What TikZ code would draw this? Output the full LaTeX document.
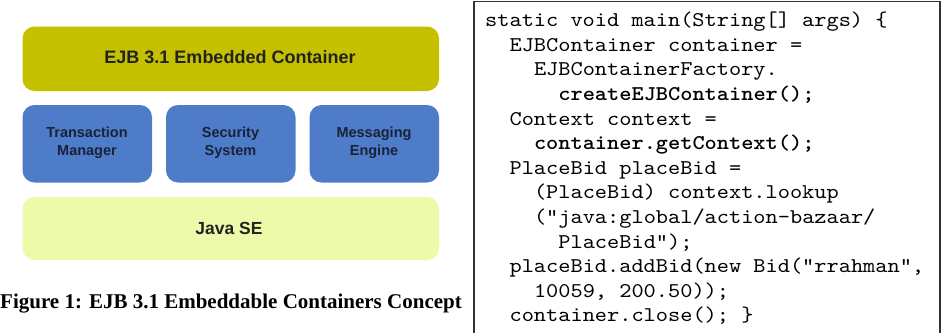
\documentclass[tikz,border=0pt]{standalone}
\usepackage{fontspec}
\setmainfont{Liberation Serif}
\newfontfamily\boxfont{Liberation Sans}
\newfontfamily\codefont{lmmono10-regular.otf}[BoldFont=lmmonolt10-bold.otf, FakeStretch=1.106]
\definecolor{olivebox}{RGB}{197,193,0}
\definecolor{bluebox}{RGB}{79,124,200}
\definecolor{greenbox}{RGB}{236,250,170}
\definecolor{boxtext}{RGB}{34,34,30}
\definecolor{bluetext}{RGB}{24,34,56}
\definecolor{frame}{RGB}{50,50,50}
\tikzset{
  lbl/.style={font=\boxfont\bfseries, align=center},
  code/.style={anchor=base west, inner sep=0pt, font=\codefont\fontsize{21}{24}\selectfont},
  bcode/.style={code, font=\codefont\bfseries\fontsize{21}{24}\selectfont}
}
\begin{document}
\begin{tikzpicture}[x=1pt,y=-1pt]
\useasboundingbox (0,0) rectangle (941,332);
% left diagram
\fill[olivebox,rounded corners=12pt] (22.5,26.5) rectangle (439,91);
\node[lbl, text=boxtext, font=\boxfont\bfseries\fontsize{18}{20}\selectfont] (ejb) at (230,57) {EJB 3.1 Embedded Container};
\fill[bluebox,rounded corners=12pt] (22.5,105) rectangle (152,182.5);
\fill[bluebox,rounded corners=12pt] (166,105) rectangle (295.5,182.5);
\fill[bluebox,rounded corners=12pt] (309.5,105) rectangle (439,182.5);
\node[lbl, text=bluetext, font=\boxfont\bfseries\fontsize{14.5}{18}\selectfont] (tm) at (87,143) {Transaction\\Manager};
\node[lbl, text=bluetext, font=\boxfont\bfseries\fontsize{14.5}{18}\selectfont] (ss) at (230.5,143) {Security\\System};
\node[lbl, text=bluetext, font=\boxfont\bfseries\fontsize{14.5}{18}\selectfont] (me) at (374,143) {Messaging\\Engine};
\fill[greenbox,rounded corners=12pt] (22.5,197) rectangle (439,260);
\node[lbl, text=boxtext, font=\boxfont\bfseries\fontsize{17.5}{20}\selectfont] (java) at (229,228) {Java SE};
\node[anchor=base west, inner sep=0pt, font=\bfseries\fontsize{21}{24}\selectfont] (cap) at (0,308) {Figure 1: EJB 3.1 Embeddable Containers Concept};
% code box
\draw[frame, line width=1.5pt] (474,340) -- (474,1.5) -- (940,1.5) -- (940,340);
\node[code] (l1) at (485,26.7) {static void main(String[] args) \{};
\node[code] (l2) at (509.4,51.3) {EJBContainer container =};
\node[code] (l3) at (533.8,75.9) {EJBContainerFactory.};
\node[bcode] (l4) at (558.2,100.5) {createEJBContainer();};
\node[code] (l5) at (509.4,125.1) {Context context =};
\node[bcode] (l6) at (533.8,149.7) {container.getContext();};
\node[code] (l7) at (509.4,174.3) {PlaceBid placeBid =};
\node[code] (l8) at (533.8,198.9) {(PlaceBid) context.lookup};
\node[code] (l9) at (533.8,223.5) {("java:global/action-bazaar/};
\node[code] (l10) at (558.2,248.1) {PlaceBid");};
\node[code] (l11) at (509.4,272.7) {placeBid.addBid(new Bid("rrahman",};
\node[code] (l12) at (533.8,297.3) {10059, 200.50));};
\node[code] (l13) at (509.4,321.9) {container.close(); \}};
\end{tikzpicture}
\end{document}
